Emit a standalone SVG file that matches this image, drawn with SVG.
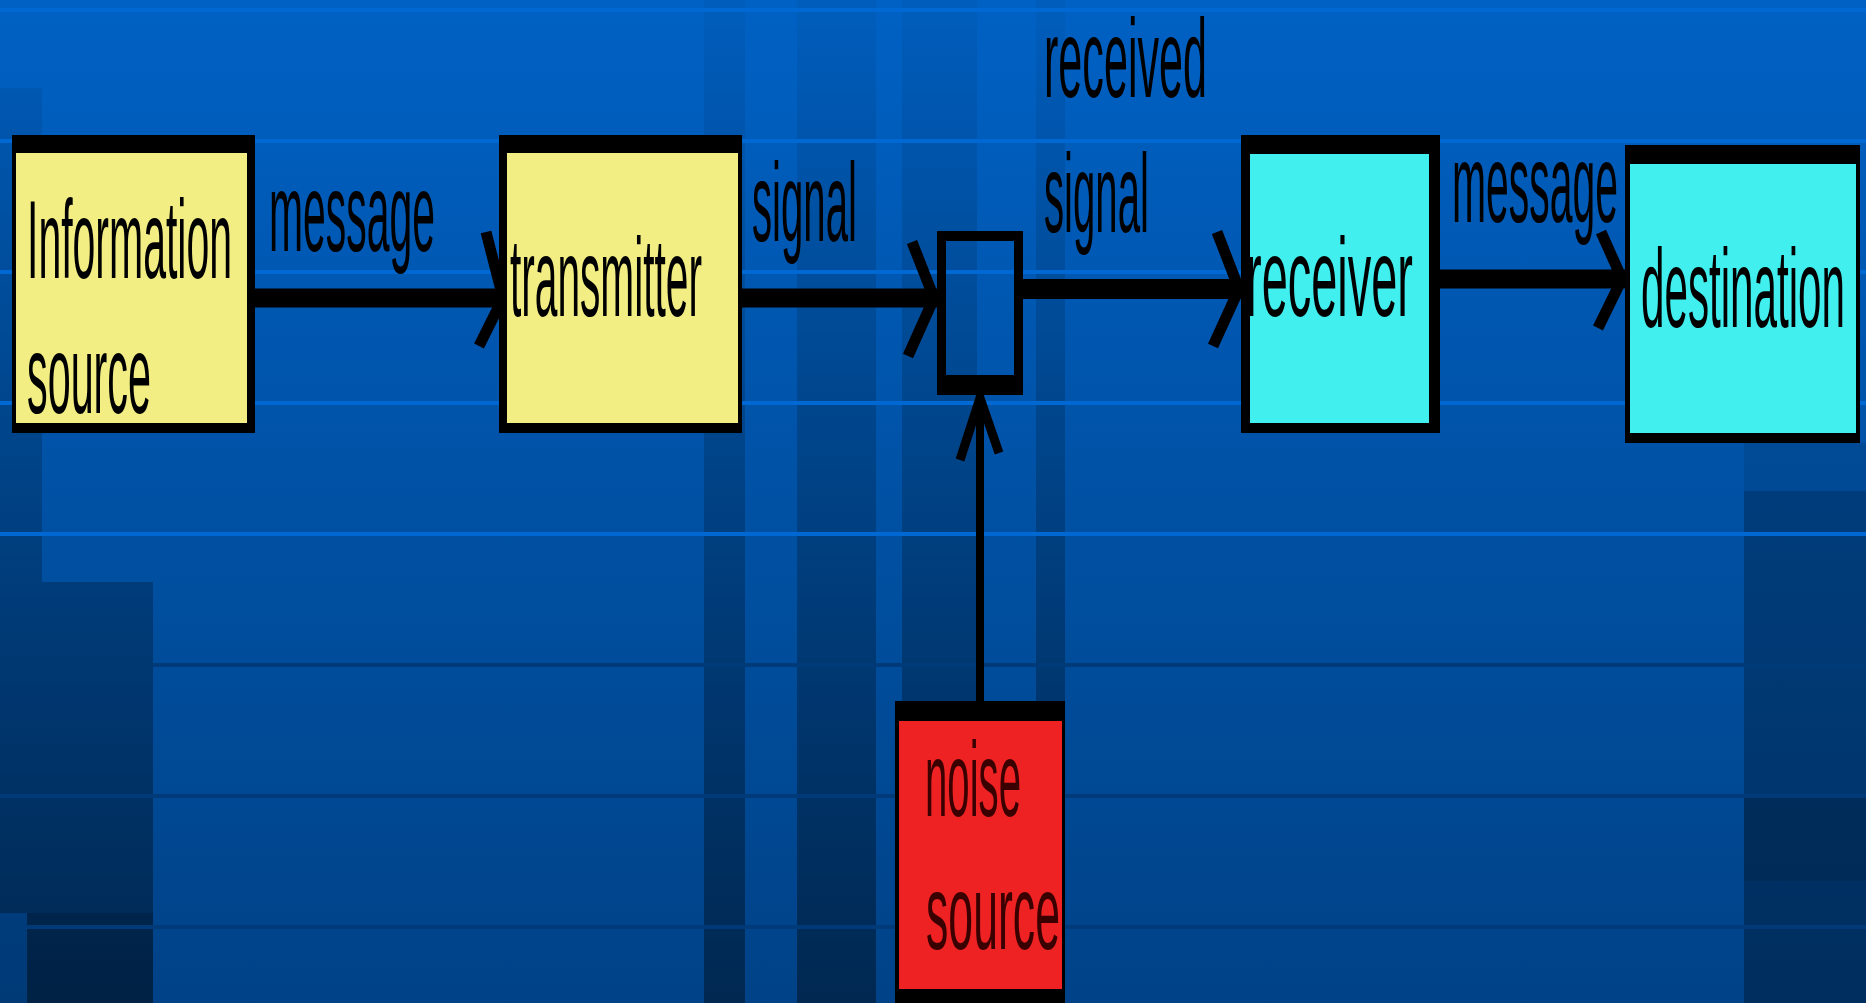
<svg xmlns="http://www.w3.org/2000/svg" width="1866" height="1003" viewBox="0 0 1866 1003">
  <defs>
    <linearGradient id="bg" x1="0" y1="0" x2="0" y2="1">
      <stop offset="0" stop-color="#0061c4"/>
      <stop offset="0.5" stop-color="#0051a4"/>
      <stop offset="1" stop-color="#004287"/>
    </linearGradient>
    <linearGradient id="shade" gradientUnits="userSpaceOnUse" x1="0" y1="0" x2="0" y2="1003">
      <stop offset="0" stop-color="#000" stop-opacity="0.04"/>
      <stop offset="0.5" stop-color="#000" stop-opacity="0.2"/>
      <stop offset="1" stop-color="#000" stop-opacity="0.4"/>
    </linearGradient>
    <style>
      .lbl { font-family: "Liberation Sans", Arial, sans-serif; font-size: 112px; fill: #000; }
      .nlbl { font-family: "Liberation Sans", Arial, sans-serif; font-size: 106px; fill: #3a0000; }
      .frame { fill: #000; }
      .yel { fill: #f2ee84; }
      .cyan { fill: #40efee; }
      .red { fill: #ee2222; }
      .line { stroke: #000; fill: none; }
      .head { stroke: #000; fill: none; stroke-width: 11; stroke-linejoin: miter; stroke-linecap: butt; }
      .hl { fill: #0068d2; }
      .dl { fill: #003a78; }
    </style>
  </defs>

  <!-- background -->
  <g id="background">
    <rect x="0" y="0" width="1866" height="1003" fill="url(#bg)"/>
    <rect x="704" y="0" width="41" height="1003" fill="url(#shade)"/>
    <rect x="797" y="0" width="79" height="1003" fill="url(#shade)"/>
    <rect x="902" y="0" width="75" height="1003" fill="url(#shade)"/>
    <rect x="1036" y="0" width="29" height="1003" fill="url(#shade)"/>
    <rect x="0" y="88" width="42" height="494" fill="url(#shade)"/>
    <rect x="0" y="582" width="153" height="331" fill="url(#shade)"/>
    <rect x="27" y="913" width="126" height="90" fill="url(#shade)"/>
    <rect x="27" y="913" width="126" height="90" fill="#000" opacity="0.15"/>
    <rect x="0" y="913" width="27" height="90" fill="#000" opacity="0.12"/>
    <rect x="1744" y="443" width="122" height="48" fill="#000" opacity="0.1"/>
    <rect x="1744" y="491" width="122" height="307" fill="#000" opacity="0.25"/>
    <rect x="1744" y="798" width="122" height="83" fill="#000" opacity="0.38"/>
    <rect x="1744" y="881" width="122" height="122" fill="#000" opacity="0.3"/>
    <rect class="hl" x="0" y="8" width="1866" height="4"/>
    <rect class="hl" x="0" y="139" width="1866" height="4"/>
    <rect class="hl" x="0" y="270" width="1866" height="4"/>
    <rect class="hl" x="0" y="401" width="1866" height="4"/>
    <rect class="hl" x="0" y="532" width="1866" height="4"/>
    <rect class="dl" x="153" y="663" width="1713" height="4"/>
    <rect class="dl" x="0" y="794" width="1866" height="4"/>
    <rect class="dl" x="27" y="925" width="1839" height="4"/>
  </g>

  <!-- connectors -->
  <g id="connectors">
    <line class="line" x1="255" y1="298" x2="500" y2="298" stroke-width="19"/>
    <polyline class="head" points="486,232 503,298 479,346"/>
    <line class="line" x1="742" y1="298" x2="937" y2="298" stroke-width="19"/>
    <polyline class="head" points="912,242 934,298 908,356"/>
    <line class="line" x1="1022" y1="289" x2="1241" y2="289" stroke-width="20"/>
    <polyline class="head" points="1217,232 1239,289 1213,346"/>
    <line class="line" x1="1440" y1="279" x2="1625" y2="279" stroke-width="19"/>
    <polyline class="head" points="1601,232 1622,279 1598,328"/>
    <line class="line" x1="980" y1="701" x2="980" y2="396" stroke-width="8"/>
    <polyline class="head" points="960,460 980,398 999,453" style="stroke-width:9"/>
  </g>

  <!-- nodes -->
  <g id="information-source">
    <rect class="frame" x="12" y="135" width="243" height="298"/>
    <rect class="yel" x="16" y="153" width="231" height="270"/>
    <text class="lbl" x="27" y="278" textLength="205" lengthAdjust="spacingAndGlyphs">Information</text>
    <text class="lbl" x="27" y="413" textLength="124" lengthAdjust="spacingAndGlyphs">source</text>
  </g>

  <g id="label-message-1">
    <text class="lbl" x="269" y="251" textLength="166" lengthAdjust="spacingAndGlyphs">message</text>
  </g>

  <g id="transmitter">
    <rect class="frame" x="499" y="135" width="243" height="298"/>
    <rect class="yel" x="507" y="153" width="231" height="270"/>
    <text class="lbl" x="510" y="316" textLength="192" lengthAdjust="spacingAndGlyphs">transmitter</text>
  </g>

  <g id="label-signal">
    <text class="lbl" x="752" y="241" textLength="105" lengthAdjust="spacingAndGlyphs">signal</text>
  </g>

  <g id="mixer">
    <path class="frame" fill-rule="evenodd" d="M937,231 H1023 V395 H937 Z M946,241 V375 H1014 V241 Z"/>
  </g>

  <g id="label-received-signal">
    <text class="lbl" x="1044" y="97" textLength="163" lengthAdjust="spacingAndGlyphs">received</text>
    <text class="lbl" x="1044" y="232" textLength="105" lengthAdjust="spacingAndGlyphs">signal</text>
  </g>

  <g id="receiver">
    <rect class="frame" x="1241" y="135" width="199" height="298"/>
    <rect class="cyan" x="1250" y="154" width="179" height="269"/>
    <text class="lbl" x="1246" y="316" textLength="167" lengthAdjust="spacingAndGlyphs">receiver</text>
  </g>

  <g id="label-message-2">
    <text class="lbl" x="1452" y="222" textLength="166" lengthAdjust="spacingAndGlyphs">message</text>
  </g>

  <g id="destination">
    <rect class="frame" x="1625" y="145" width="235" height="298"/>
    <rect class="cyan" x="1630" y="164" width="226" height="269"/>
    <text class="lbl" x="1641" y="327" textLength="204" lengthAdjust="spacingAndGlyphs">destination</text>
  </g>

  <g id="noise-source">
    <rect class="frame" x="895" y="701" width="170" height="302"/>
    <rect class="red" x="899" y="721" width="163" height="268"/>
    <text class="nlbl" x="925" y="816" textLength="96" lengthAdjust="spacingAndGlyphs">noise</text>
    <text class="nlbl" x="926" y="949" textLength="134" lengthAdjust="spacingAndGlyphs">source</text>
  </g>
</svg>
